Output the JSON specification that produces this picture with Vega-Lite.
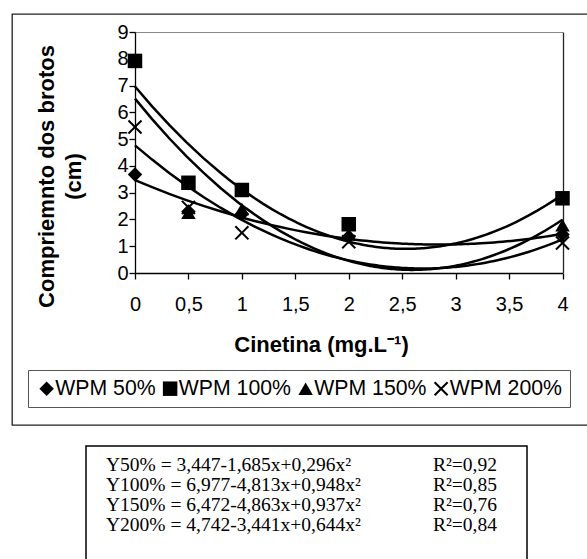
{
  "$schema": "https://vega.github.io/schema/vega-lite/v6.json",
  "background": "white",
  "padding": {"left": 11, "top": 13, "right": 0, "bottom": 0},
  "config": {"font": "Liberation Sans", "view": {"stroke": null}},
  "spacing": 19,
  "vconcat": [
    {
      "width": 580,
      "height": 411,
      "view": {"stroke": "#222", "strokeWidth": 1.3},
      "data": {
        "values": [
          {"series": "WPM 50%", "x": 0, "y": 3.68},
          {"series": "WPM 50%", "x": 0.5, "y": 2.3},
          {"series": "WPM 50%", "x": 1, "y": 2.2},
          {"series": "WPM 50%", "x": 2, "y": 1.35},
          {"series": "WPM 50%", "x": 4, "y": 1.44},
          {"series": "WPM 100%", "x": 0, "y": 7.92},
          {"series": "WPM 100%", "x": 0.5, "y": 3.37},
          {"series": "WPM 100%", "x": 1, "y": 3.1},
          {"series": "WPM 100%", "x": 2, "y": 1.82},
          {"series": "WPM 100%", "x": 4, "y": 2.79},
          {"series": "WPM 150%", "x": 0, "y": 7.9},
          {"series": "WPM 150%", "x": 0.5, "y": 2.25},
          {"series": "WPM 150%", "x": 1, "y": 2.39},
          {"series": "WPM 150%", "x": 2, "y": 1.45},
          {"series": "WPM 150%", "x": 4, "y": 1.78},
          {"series": "WPM 200%", "x": 0, "y": 5.45},
          {"series": "WPM 200%", "x": 0.5, "y": 2.45},
          {"series": "WPM 200%", "x": 1, "y": 1.5},
          {"series": "WPM 200%", "x": 2, "y": 1.17},
          {"series": "WPM 200%", "x": 4, "y": 1.12}
        ]
      },
      "resolve": {"axis": {"x": "independent"}},
      "encoding": {
        "y": {
          "field": "y",
          "type": "quantitative",
          "scale": {"domain": [0, 9], "range": [259, 18], "nice": false, "zero": false},
          "axis": {
            "orient": "left",
            "offset": -123,
            "values": [0, 1, 2, 3, 4, 5, 6, 7, 8, 9],
            "format": "d",
            "domainColor": "black",
            "domainWidth": 1.3,
            "tickColor": "black",
            "tickWidth": 1.3,
            "tickSize": 6,
            "labelFont": "Liberation Sans",
            "labelFontSize": 20,
            "labelColor": "black",
            "labelPadding": 1,
            "labelFlush": false,
            "labelOverlap": false,
            "title": ["Compriemnto dos brotos", "(cm)"],
            "titleFont": "Liberation Sans",
            "titleFontSize": 22,
            "titleFontWeight": "bold",
            "titleColor": "black",
            "titleX": -89,
            "titleY": 162,
            "titleAngle": -90,
            "titleBaseline": "middle",
            "titleAlign": "center",
            "titleLineHeight": 27,
            "grid": true,
            "gridColor": "#888",
            "gridWidth": 1,
            "gridOpacity": {"condition": {"test": "datum.value === 9", "value": 1}, "value": 0}
          }
        }
      },
      "layer": [
        {
          "transform": [
            {"regression": "y", "on": "x", "groupby": ["series"], "method": "poly", "order": 2, "extent": [0, 4]}
          ],
          "mark": {"type": "line", "color": "black", "strokeWidth": 2.5},
          "encoding": {
            "x": {
              "field": "x",
              "type": "quantitative",
              "scale": {"domain": [0, 4], "range": [123, 550.5], "nice": false, "zero": false},
              "axis": {
                "orient": "bottom",
                "offset": -152,
                "values": [0, 0.5, 1, 1.5, 2, 2.5, 3, 3.5, 4],
                "format": "~g",
                "labelExpr": "replace(datum.label, '.', ',')",
                "domainColor": "black",
                "domainWidth": 1.3,
                "tickColor": "black",
                "tickWidth": 1.3,
                "tickSize": 6,
                "labelFont": "Liberation Sans",
                "labelFontSize": 20,
                "labelColor": "black",
                "labelPadding": 15,
                "labelFlush": false,
                "labelOverlap": false,
                "title": "Cinetina (mg.L⁻¹)",
                "titleFont": "Liberation Sans",
                "titleFontSize": 22,
                "titleFontWeight": "bold",
                "titleColor": "black",
                "titleX": 309,
                "titleY": 71,
                "titleBaseline": "middle",
                "titleAlign": "center",
                "grid": false
              }
            },
            "detail": {"field": "series", "type": "nominal"}
          }
        },
        {
          "mark": {"type": "point", "filled": true, "color": "black", "strokeWidth": 0, "size": 210, "opacity": 1},
          "encoding": {
            "x": {
              "field": "x",
              "type": "quantitative",
              "scale": {"domain": [0, 4], "range": [123, 550.5], "nice": false, "zero": false},
              "axis": {
                "orient": "top",
                "offset": -18,
                "values": [4],
                "domain": false,
                "labels": false,
                "ticks": true,
                "tickSize": -241,
                "tickColor": "#222",
                "tickWidth": 1.3,
                "title": null,
                "grid": false
              }
            },
            "shape": {
              "field": "series",
              "type": "nominal",
              "scale": {
                "domain": ["WPM 50%", "WPM 100%", "WPM 150%", "WPM 200%"],
                "range": ["diamond", "square", "triangle-up", "M0.2,0L1,0.8L0.8,1L0,0.2L-0.8,1L-1,0.8L-0.2,0L-1,-0.8L-0.8,-1L0,-0.2L0.8,-1L1,-0.8Z"]
              },
              "legend": {
                "orient": "none",
                "legendX": 16,
                "legendY": 356,
                "direction": "horizontal",
                "title": null,
                "strokeColor": "#555",
                "fillColor": "white",
                "padding": 8,
                "labelFont": "Liberation Sans",
                "labelFontSize": 21.25,
                "labelColor": "black",
                "labelOffset": -2,
                "columnPadding": 3.5,
                "symbolSize": 210,
                "symbolFillColor": "black",
                "symbolStrokeWidth": 0,
                "symbolOpacity": 1
              }
            }
          }
        }
      ]
    },
    {
      "spacing": 20,
      "hconcat": [
        {
          "width": 53,
          "height": 118,
          "view": {"stroke": null},
          "data": {"values": []},
          "mark": "text"
        },
        {
          "width": 441,
          "height": 118,
          "view": {"stroke": "black", "strokeWidth": 1.5},
          "data": {
            "values": [
              {"line": 50, "eq": "Y50% = 3,447-1,685x+0,296x²", "r2": "R²=0,92"},
              {"line": 100, "eq": "Y100% = 6,977-4,813x+0,948x²", "r2": "R²=0,85"},
              {"line": 150, "eq": "Y150% = 6,472-4,863x+0,937x²", "r2": "R²=0,76"},
              {"line": 200, "eq": "Y200% = 4,742-3,441x+0,644x²", "r2": "R²=0,84"}
            ]
          },
          "transform": [{"fold": ["eq", "r2"], "as": ["col", "txt"]}],
          "mark": {"type": "text", "align": "left", "baseline": "middle", "font": "Liberation Serif", "fontSize": 19.5, "color": "black"},
          "encoding": {
            "x": {"field": "col", "type": "nominal", "scale": {"type": "point", "domain": ["eq", "r2"], "range": [20, 347], "padding": 0}, "axis": null},
            "y": {"field": "line", "type": "quantitative", "scale": {"domain": [50, 200], "range": [19, 79], "nice": false, "zero": false}, "axis": null},
            "text": {"field": "txt", "type": "nominal"}
          }
        }
      ]
    }
  ]
}
